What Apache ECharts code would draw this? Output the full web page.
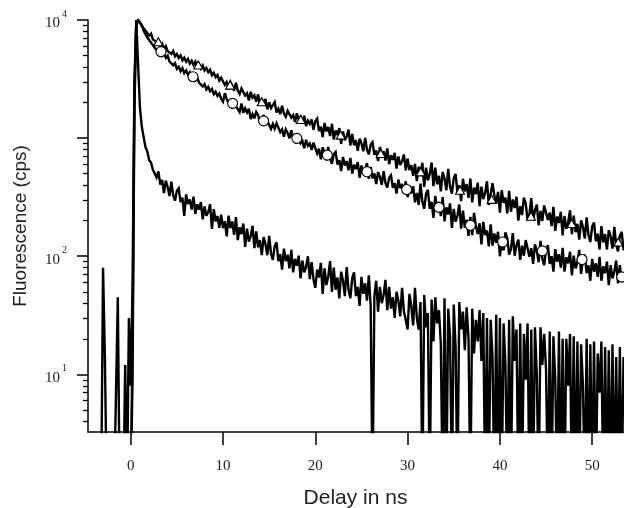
<!DOCTYPE html>
<html><head><meta charset="utf-8">
<script src="https://cdn.jsdelivr.net/npm/echarts@6/dist/echarts.min.js"></script>
<style>html,body{margin:0;padding:0;background:#fff}#c{width:624px;height:508px}</style>
</head><body><div id="c"></div>
<script>
// time channels: x = timeStart + i*timeStep (ns)
const timeStart = -4.4, timeStep = 0.2;

// upper decay (triangles)
const curveA = [
1,1,1,1,1,1,1,1,1,1,1,1,1,1,1,1,1,1,1,1,1,1,
1,20,2500,9500,10000,
9800,8885,9029,8123,8142,
7362,7659,6852,7119,6485,
6718,6040,6308,5718,6020,
5451,5663,5161,5464,4927,
5160,4774,5027,4556,4798,
4433,4690,4272,4522,4157,
4441,4068,4242,3880,4125,
3734,3920,3610,3784,3412,
3574,3279,3422,3072,3234,
3274,2827,2982,2595,2992,
2794,2513,2946,2523,2361,
2636,2695,2289,2397,2084,
2462,2196,2301,2033,2345,
1912,2121,1984,2145,1750,
2015,1797,1868,2021,1649,
1768,1596,1878,1615,1517,
1701,1747,1489,1566,1368,
1623,1448,1518,1342,1548,
1263,1407,1323,1437,1179,
1392,1463,1147,1252,1021,
1345,1140,1244,1041,1322,
974,1161,1061,1217,895,
1137,961,1032,1181,867,
1084,871,961,782,991,
903,773,1006,799,728,
877,920,721,785,639,
841,711,774,646,819,
602,717,654,750,551,
700,592,636,727,534,
669,537,590,479,606,
433,571,498,619,387,
562,439,498,622,392,
562,406,479,354,517,
454,361,548,388,339,
458,498,345,399,293,
453,354,408,312,455,
286,381,336,420,265,
389,304,344,431,272,
268,416,326,280,351,
234,362,283,313,231,
357,238,302,256,319,
200,265,223,314,280,
202,226,311,200,245,
274,183,242,199,269,
260,203,234,180,262,
164,217,191,238,150,
219,171,194,245,154,
221,160,188,138,201,
177,141,213,151,132,
178,193,134,155,114,
180,131,154,114,166,
147,116,177,125,110,
149,161,112
];

// middle decay (circles)
const curveB = [
1,1,1,1,1,1,1,1,1,1,1,1,1,1,1,1,1,1,1,1,1,1,
1,10,1800,9000,10000,
9500,9113,8115,8199,7106,
7128,6437,6606,5825,5958,
5335,5572,5007,5226,4784,
4982,4443,4600,4132,4308,
3861,4027,3686,3921,3552,
3739,3445,3613,3260,3418,
3110,3268,2953,3034,2734,
2860,2582,2709,2493,2610,
2352,2470,2276,2386,2152,
2037,2401,2136,1976,2131,
1775,2094,1864,1917,1663,
1960,1638,1786,1644,1776,
1447,1601,1470,1666,1567,
1348,1392,1572,1296,1394,
1440,1199,1321,1201,1333,
1301,1123,1184,1030,1187,
1107,996,1168,1000,936,
1045,1067,904,946,821,
968,862,900,795,914,
923,741,815,661,836,
760,649,843,668,607,
729,764,597,649,527,
692,586,639,535,679,
500,596,546,627,462,
587,498,537,615,453,
569,456,502,408,516,
469,402,525,417,381,
461,484,380,415,339,
446,377,409,341,431,
316,376,341,390,286,
344,272,412,289,252,
338,365,252,289,211,
324,252,288,219,316,
197,259,226,280,174,
252,196,220,274,171,
243,174,204,149,215,
151,233,180,154,190,
126,195,151,165,121,
186,123,156,130,161,
100,134,112,159,142,
103,115,157,101,124,
138,93,123,101,137,
136,99,117,86,126,
111,89,135,95,84,
114,124,86,100,74,
115,90,104,80,118,
74,98,87,109,69,
101,79,89,113,71,
95,103,72,84,62,
95,74,87,67,99,
62,82,72,90,57,
84,65,74,92,59,
84,60,71
];

// fast decay (instrument response)
const curveC = [
1,1,1,1,1,1,1,80,14,1,1,1,1,1,1,45,1,1,1,12,1,30,
8,60,3000,10000,4200,
1800,1250,1020,840,770,
650,620,540,525,465,
522,405,443,343,436,
386,323,427,329,295,
358,376,287,313,220,
334,277,303,248,320,
228,275,248,287,205,
264,220,237,275,170,
250,197,219,174,225,
173,198,147,221,173,
197,152,214,137,176,
154,189,120,171,133,
148,181,117,162,119,
137,102,145,127,102,
149,106,93,122,131,
91,104,77,116,91,
103,79,113,73,95,
83,101,65,92,73,
81,100,64,89,64,
54,77,66,88,48,
79,57,67,91,50,
80,52,66,44,74,
62,46,81,52,44,
65,73,46,55,38,
67,48,59,42,69,
38,1,46,62,34,
55,40,47,63,35,
55,36,45,30,50,
42,31,54,34,29,
24,48,38,26,54,
30,24,41,1,47,
25,33,1,43,19,
45,27,35,18,1,
44,1,36,21,1,
39,17,1,41,24,
34,16,37,20,1,
36,15,29,19,35,
13,33,1,30,1,
29,14,1,32,1,
30,1,27,12,1,
29,1,31,13,24,
1,27,1,22,9,
27,1,24,1,25,
10,1,25,12,22,
11,1,23,1,21,
9,1,23,1,20,
1,20,8,22,1,
21,1,19,1,18,
8,1,20,1,18,
1,19,1,15,7,
19,1,17,1,16,
1,18,1,14,1,
17,1,14
];

const triangleX = [2.99,7.32,10.76,14.19,18.42,22.75,27.09,31.42,35.68,39.11,43.37,47.78,52.83];
const triangleY = [6550,4160,2810,2030,1440,1060,741,518,362,303,218,189,132];
const circleX = [3.28,6.75,11.04,14.4,18.0,21.3,25.6,29.9,33.4,36.8,40.3,44.6,48.9,53.2];
const circleY = [5390,3310,1970,1400,995,718,519,367,259,183,132,111,93.7,66.8];

const xTickValues = [0,10,20,30,40,50];
const yMajorTicks = [10,100,1000,10000];
const yLabelValues = [10,100,10000];
const yMinorTicks = [4,5,6,7,8,9,20,30,40,50,60,70,80,90,200,300,400,500,600,700,800,900,2000,3000,4000,5000,6000,7000,8000,9000];

function toPairs(arr){ return arr.map((v,i)=>[Math.round((timeStart+i*timeStep)*10)/10, v]); }
function zip(xs, ys){ return xs.map((x,i)=>[x, ys[i]]); }

const serif = '"Liberation Serif","Times New Roman",serif';
const sans = '"Liberation Sans",Arial,sans-serif';
const axisColor = '#000';

const chart = echarts.init(document.getElementById('c'), null, {renderer:'canvas'});
const lineBase = {type:'line', showSymbol:false, symbol:'none', clip:true, silent:true, animation:false,
  lineStyle:{color:'#000', width:2.4, join:'miter', miterLimit:3}};
chart.setOption({
  animation:false,
  backgroundColor:'#fff',
  grid:{left:88, right:1, top:20, bottom:76, containLabel:false, outerBoundsMode:'none'},
  xAxis:{
    type:'value', min:-4.63, max:53.34,
    name:'Delay in ns', nameLocation:'middle', nameGap:56,
    nameTextStyle:{fontFamily:sans, fontSize:21, color:'#222'},
    axisLine:{onZero:false, lineStyle:{color:axisColor, width:1.5}},
    axisTick:{show:true, customValues:xTickValues, length:13, lineStyle:{color:axisColor, width:1.5}},
    axisLabel:{customValues:xTickValues, margin:27, fontFamily:serif, fontSize:15, color:'#222'},
    splitLine:{show:false}
  },
  yAxis:[{
    type:'log', logBase:10, min:3.25, max:10000, position:'left',
    name:'Fluorescence (cps)', nameLocation:'middle', nameGap:58,
    nameTextStyle:{fontFamily:sans, fontSize:19, color:'#222'},
    axisLine:{show:true, onZero:false, lineStyle:{color:axisColor, width:1.5}},
    axisTick:{show:true, customValues:yMajorTicks, length:11, lineStyle:{color:axisColor, width:1.5}},
    axisLabel:{customValues:yLabelValues, margin:21,
      formatter:v=>'{b|10}{s|'+Math.round(Math.log10(v))+'}',
      rich:{
        b:{fontFamily:serif, fontSize:15, color:'#222', lineHeight:22, verticalAlign:'bottom'},
        s:{fontFamily:serif, fontSize:10, color:'#222', lineHeight:22, verticalAlign:'top', padding:[0,0,0,2]}
      }},
    splitLine:{show:false}
  },{
    type:'log', logBase:10, min:3.25, max:10000, position:'left', offset:0,
    axisLine:{show:false, onZero:false},
    axisTick:{show:true, customValues:yMinorTicks, length:5, lineStyle:{color:axisColor, width:1.3}},
    axisLabel:{show:false},
    splitLine:{show:false}
  }],
  series:[
    Object.assign({}, lineBase, {name:'C', data:toPairs(curveC), z:2}),
    Object.assign({}, lineBase, {name:'B', data:toPairs(curveB), z:3}),
    Object.assign({}, lineBase, {name:'A', data:toPairs(curveA), z:4}),
    {type:'scatter', name:'triangles', data:zip(triangleX, triangleY), symbol:'triangle', symbolSize:[9,8],
      itemStyle:{color:'#fff', opacity:1, borderColor:'#000', borderWidth:1.1}, z:6, silent:true},
    {type:'scatter', name:'circles', data:zip(circleX, circleY), symbol:'circle', symbolSize:10,
      itemStyle:{color:'#fff', opacity:1, borderColor:'#000', borderWidth:1.1}, z:6, silent:true}
  ]
});
</script></body></html>
